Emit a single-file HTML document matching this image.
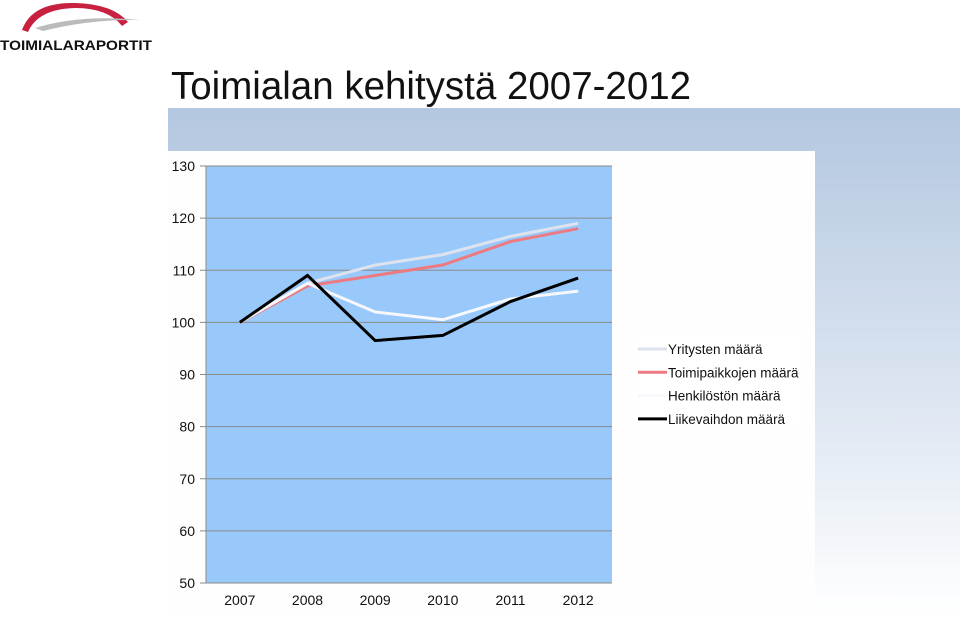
<!DOCTYPE html>
<html><head><meta charset="utf-8"><style>
body{margin:0;width:960px;height:617px;overflow:hidden;background:#fff;font-family:"Liberation Sans",sans-serif;position:relative}
.band{position:absolute;left:168px;top:108px;width:792px;height:509px;background:linear-gradient(#b3c7e0,#dfe7f2 60%,#ffffff)}
.panel{position:absolute;left:168px;top:151px;width:647px;height:466px;background:#fefefe}
.title{position:absolute;left:171px;top:65px;font-size:38.5px;color:#111}
</style></head><body>
<div class="logo" style="position:absolute;left:0;top:0;width:160px;height:55px">
<svg width="160" height="55"><path d="M22 30 Q32 2 75 3 Q113 4 128 22 L122 26 Q108 8 75 8 Q38 9 28 32 Z" fill="#c8203f"/><path d="M35 28 Q80 14 140 20 Q90 19 43 31 Z" fill="#bbb"/>
<text x="0" y="50" font-family="Liberation Sans,sans-serif" font-weight="bold" font-size="14" textLength="152" lengthAdjust="spacingAndGlyphs" fill="#111">TOIMIALARAPORTIT</text></svg></div>
<div class="title">Toimialan kehitystä 2007-2012</div>
<div class="band"></div>
<div class="panel"></div>
<svg id="c" width="960" height="617" style="position:absolute;left:0;top:0"></svg>
<script>
const categories=["2007","2008","2009","2010","2011","2012"];
const yTicks=[50,60,70,80,90,100,110,120,130];
const yritykset=[100,107.5,111,113,116.5,119];
const toimipaikat=[100,107,109,111,115.5,118];
const henkilosto=[100,107.5,102,100.5,104.5,106];
const liikevaihto=[100,109,96.5,97.5,104,108.5];
const seriesNames=["Yritysten määrä","Toimipaikkojen määrä","Henkilöstön määrä","Liikevaihdon määrä"];
const L=206,R=612,T=166,B=583,ymin=50,ymax=130;
const y=v=>B-(v-ymin)/(ymax-ymin)*(B-T);
const x=i=>L+(i+0.5)*(R-L)/categories.length;
const s=document.getElementById('c');const NS="http://www.w3.org/2000/svg";
function el(t,a,p){const e=document.createElementNS(NS,t);for(const k in a)e.setAttribute(k,a[k]);(p||s).appendChild(e);return e;}
const bg=el('rect',{x:L,y:T,width:R-L,height:B-T,fill:'#99c9fb'});


yTicks.forEach(v=>{
 const g=el('line',{x1:L-6,x2:R,y1:y(v),y2:y(v),stroke:'#8a8a8a','stroke-width':1});
 
 
 const t=el('text',{x:L-11,y:y(v)+5,'text-anchor':'end','font-size':14,fill:'#111'});t.textContent=v;
 
 
});
el('line',{x1:L,x2:L,y1:T,y2:B,stroke:'#8a8a8a'});
categories.forEach((c,i)=>{
 const t=el('text',{x:x(i),y:B+22,'text-anchor':'middle','font-size':14,fill:'#111'});t.textContent=c;
 
 
});
const data=[yritykset,toimipaikat,henkilosto,liikevaihto];
const cols=['#dde3ee','#ec7a80','#f6f8fc','#000'];
data.forEach((d,k)=>{
 const p=el('polyline',{points:d.map((v,i)=>x(i)+','+y(v)).join(' '),fill:'none',stroke:cols[k],'stroke-width':3});
 
 
});
const lg=el('rect',{x:634,y:336,width:172,height:94,fill:'#fff'});


seriesNames.forEach((n,k)=>{
 const yy=349+k*23.3;
 el('line',{x1:638,x2:667,y1:yy,y2:yy,stroke:cols[k],'stroke-width':3});
 const t=el('text',{x:668,y:yy+5,'font-size':13.5,fill:'#111'});t.textContent=n;
 
 
});
</script>
</body></html>
